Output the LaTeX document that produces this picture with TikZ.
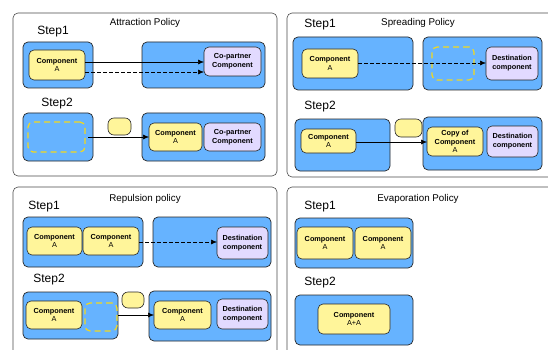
\documentclass[tikz,border=0pt]{standalone}
\usepackage{fontspec}
\setmainfont{Liberation Sans}
\usetikzlibrary{arrows.meta}
\definecolor{bluef}{HTML}{66B3FF}
\definecolor{yelf}{HTML}{FFF59A}
\definecolor{lavf}{HTML}{E2DAFF}
\definecolor{dashy}{HTML}{F2D81E}
\newcommand\bx[7]{\pgfmathsetmacro\cxx{(#3+#5)/2}\pgfmathsetmacro\cyy{(#4+#6)/2}\pgfmathsetmacro\ww{#5-#3}\pgfmathsetmacro\hh{#6-#4}\node[#2, minimum width=\ww pt, minimum height=\hh pt] (#1) at (\cxx,\cyy) {#7};}
\tikzset{
  base/.style={rectangle, inner sep=0pt, outer sep=0pt, align=center},
  outer/.style={base, draw=black!70, line width=0.6pt, rounded corners=5pt, fill=white},
  bluebox/.style={base, draw=black!85, line width=0.7pt, rounded corners=5pt, fill=bluef},
  yelbox/.style={base, draw=black!85, line width=0.6pt, rounded corners=5pt, fill=yelf, font=\fontsize{7.3}{8.6}\selectfont},
  lavbox/.style={base, draw=black!85, line width=0.6pt, rounded corners=5pt, fill=lavf, font=\fontsize{7.3}{9}\selectfont\bfseries},
  ghost/.style={base, draw=dashy, line width=1.2pt, dash pattern=on 6pt off 4pt, rounded corners=5pt},
  pill/.style={base, draw=black!85, line width=0.6pt, rounded corners=6pt, fill=yelf},
  ttl/.style={font=\fontsize{9.8}{11}\selectfont, inner sep=0pt},
  steplbl/.style={font=\fontsize{12}{14}\selectfont, inner sep=0pt},
  conn/.style={-{Latex[length=6pt,width=5pt]}, line width=0.6pt},
  dconn/.style={conn, dash pattern=on 3.5pt off 2.5pt},
}
\newcommand\cmp[1]{\textbf{Component}\\#1}
\begin{document}
\begin{tikzpicture}[x=1pt,y=-1pt]
\useasboundingbox (0,0) rectangle (548,350);
\fill[white] (0,0) rectangle (548,350);
\clip (0,0) rectangle (548,350);
% outer panels
\bx{p1}{outer}{13}{13}{277}{176}{}
\bx{p2}{outer}{287}{13}{560}{177}{}
\bx{p3}{outer}{13}{187}{277}{365}{}
\bx{p4}{outer}{287}{187}{560}{365}{}
% ===== Attraction
\node[ttl] (t1) at (145,23) {Attraction Policy};
\node[steplbl] (s11) at (53,32) {Step1};
\bx{a1l}{bluebox}{23}{42}{93}{88}{}
\bx{a1c}{yelbox}{29}{50}{85}{80}{\cmp{A}}
\bx{a1r}{bluebox}{142}{42}{265}{88}{}
\bx{a1p}{lavbox}{204}{47}{261}{76}{Co-partner\\Component}
\draw[conn] (a1c.east |- 0,62) -- (a1p.west |- 0,62);
\draw[dconn] (a1c.east |- 0,72) -- (a1p.west |- 0,72);
\node[steplbl] (s12) at (57,104) {Step2};
\bx{a2l}{bluebox}{23}{113}{93}{161}{}
\bx{a2g}{ghost}{28}{122}{85}{152}{}
\bx{a2pl}{pill}{108}{118}{131}{135}{}
\bx{a2r}{bluebox}{142}{113}{265}{161}{}
\bx{a2c}{yelbox}{149}{123}{202}{151}{\cmp{A}}
\bx{a2p}{lavbox}{204}{123}{261}{151}{Co-partner\\Component}
\draw[conn] (a2g.east |- 0,137) ++(3,0) -- (a2c.west |- 0,137);
% ===== Spreading
\node[ttl] (t2) at (418,23) {Spreading Policy};
\node[steplbl] (s21) at (320,25) {Step1};
\bx{b1l}{bluebox}{293}{37}{413}{90}{}
\bx{b1c}{yelbox}{302}{49}{358}{78}{\cmp{A}}
\bx{b1r}{bluebox}{423}{37}{542}{90}{}
\bx{b1g}{ghost}{432}{47}{474}{80}{}
\bx{b1d}{lavbox}{486}{47}{538}{80}{Destination\\component}
\draw[dconn] (b1c.east |- 0,63) -- (b1d.west |- 0,63);
\node[steplbl] (s22) at (320,107) {Step2};
\bx{b2l}{bluebox}{295}{119}{390}{171}{}
\bx{b2c}{yelbox}{301}{129}{356}{153}{\cmp{A}}
\bx{b2pl}{pill}{395}{119}{422}{137}{}
\bx{b2r}{bluebox}{423}{117}{542}{170}{}
\bx{b2k}{yelbox}{427}{127}{483}{156}{\textbf{Copy of}\\\cmp{A}}
\bx{b2d}{lavbox}{487}{126}{538}{157}{Destination\\component}
\draw[conn] (b2c.east |- 0,142) -- (b2k.west |- 0,142);
% ===== Repulsion
\node[ttl] (t3) at (145,199) {Repulsion policy};
\node[steplbl] (s31) at (44,207) {Step1};
\bx{c1l}{bluebox}{23}{217}{143}{267}{}
\bx{c1a}{yelbox}{27}{227}{82}{255}{\cmp{A}}
\bx{c1b}{yelbox}{83}{227}{139}{255}{\cmp{A}}
\bx{c1r}{bluebox}{153}{217}{271}{267}{}
\bx{c1d}{lavbox}{217}{227}{268}{259}{Destination\\component}
\draw[dconn] (c1b.east |- 0,242) -- (c1d.west |- 0,242);
\node[steplbl] (s32) at (49,280) {Step2};
\bx{c2l}{bluebox}{23}{292}{118}{339}{}
\bx{c2a}{yelbox}{26}{301}{82}{329}{\cmp{A}}
\bx{c2g}{ghost}{85}{303}{117}{331}{}
\bx{c2pl}{pill}{122}{292}{144}{308}{}
\bx{c2r}{bluebox}{149}{291}{271}{341}{}
\bx{c2c}{yelbox}{154}{301}{211}{329}{\cmp{A}}
\bx{c2d}{lavbox}{217}{299}{268}{329}{Destination\\component}
\draw[conn] (c2l.east |- 0,315) -- (c2c.west |- 0,315);
% ===== Evaporation
\node[ttl] (t4) at (418,199) {Evaporation Policy};
\node[steplbl] (s41) at (320,207) {Step1};
\bx{d1l}{bluebox}{295}{218}{413}{268}{}
\bx{d1a}{yelbox}{297}{227}{353}{259}{\cmp{A}}
\bx{d1b}{yelbox}{355}{227}{411}{259}{\cmp{A}}
\node[steplbl] (s42) at (320,283) {Step2};
\bx{d2l}{bluebox}{295}{295}{413}{345}{}
\bx{d2c}{yelbox}{318}{304}{390}{334}{\cmp{A+A}}
\end{tikzpicture}
\end{document}
